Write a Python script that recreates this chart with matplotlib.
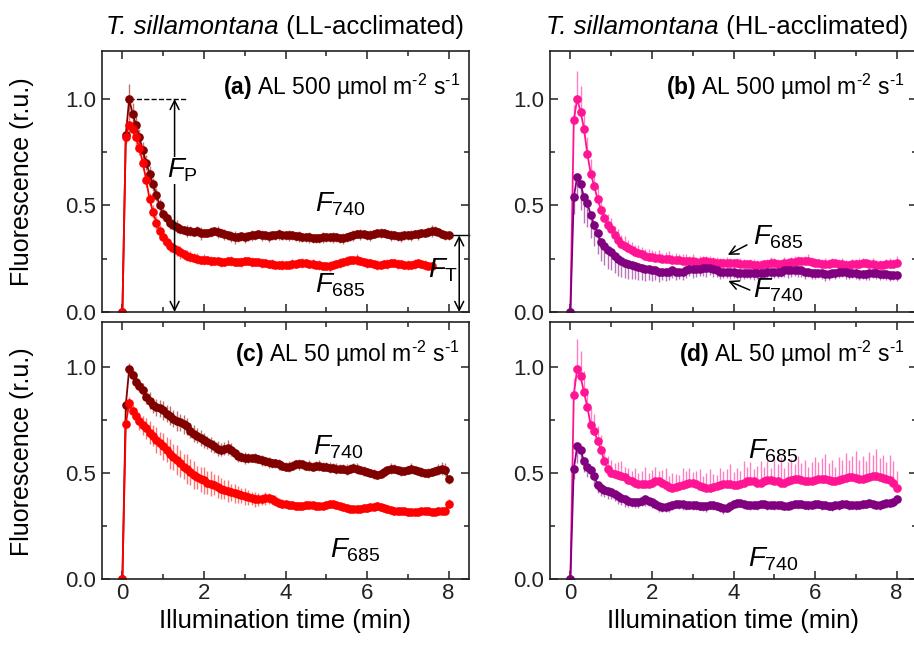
import numpy as np
import matplotlib
matplotlib.use("Agg")
import matplotlib.pyplot as plt
from matplotlib.colors import to_rgba

plt.rcParams['font.family'] = 'Liberation Sans'
plt.rcParams['mathtext.fontset'] = 'custom'
plt.rcParams['mathtext.rm'] = 'Liberation Sans'
plt.rcParams['mathtext.it'] = 'Liberation Sans:italic'
plt.rcParams['mathtext.bf'] = 'Liberation Sans:bold'

# one point every 5 s, in minutes
time_min = np.arange(97) * 5 / 60

# (a) LL-acclimated, AL 500
a740 = [0, 0.83, 1.00, 0.93, 0.88, 0.82, 0.76, 0.70, 0.65, 0.60, 0.55, 0.50, 0.46,
        0.44, 0.42, 0.41, 0.40, 0.39, 0.385, 0.38, 0.38, 0.375, 0.38, 0.37, 0.37,
        0.37, 0.375, 0.38, 0.375, 0.37, 0.365, 0.36, 0.355, 0.35, 0.35, 0.355, 0.35,
        0.355, 0.36, 0.36, 0.365, 0.36, 0.36, 0.355, 0.36, 0.36, 0.365, 0.36, 0.36,
        0.36, 0.36, 0.355, 0.355, 0.35, 0.35, 0.35, 0.345, 0.345, 0.345, 0.35, 0.35,
        0.35, 0.35, 0.35, 0.345, 0.345, 0.35, 0.355, 0.36, 0.365, 0.365, 0.365, 0.36,
        0.36, 0.365, 0.37, 0.37, 0.37, 0.365, 0.36, 0.36, 0.355, 0.355, 0.36, 0.36,
        0.36, 0.365, 0.365, 0.37, 0.37, 0.375, 0.38, 0.38, 0.375, 0.365, 0.36, 0.36]
a740_err = [0, 0.03, 0.07, 0.05, 0.045, 0.04, 0.04, 0.035, 0.035, 0.03, 0.03, 0.03, 0.03,
            0.025, 0.03, 0.025, 0.03, 0.025, 0.02, 0.03, 0.025, 0.02, 0.025, 0.03, 0.02,
            0.02, 0.025, 0.02, 0.03, 0.02, 0.025, 0.02, 0.025, 0.03, 0.02, 0.02, 0.025,
            0.02, 0.025, 0.02, 0.02, 0.025, 0.02, 0.025, 0.02, 0.02, 0.025, 0.02, 0.02,
            0.025, 0.02, 0.02, 0.025, 0.02, 0.02, 0.025, 0.02, 0.02, 0.02, 0.025, 0.02,
            0.02, 0.025, 0.02, 0.02, 0.025, 0.02, 0.02, 0.025, 0.02, 0.025, 0.02, 0.02,
            0.025, 0.02, 0.02, 0.025, 0.02, 0.02, 0.025, 0.02, 0.02, 0.025, 0.02, 0.02,
            0.025, 0.02, 0.025, 0.02, 0.02, 0.025, 0.03, 0.025, 0.02, 0.02, 0.02, 0.02]
a685 = [0, 0.82, 0.88, 0.86, 0.82, 0.77, 0.70, 0.62, 0.53, 0.47, 0.42, 0.38, 0.35,
        0.33, 0.31, 0.30, 0.29, 0.28, 0.27, 0.265, 0.26, 0.255, 0.25, 0.245, 0.245,
        0.245, 0.24, 0.24, 0.24, 0.235, 0.235, 0.24, 0.24, 0.235, 0.235, 0.235, 0.24,
        0.24, 0.235, 0.235, 0.235, 0.23, 0.23, 0.225, 0.225, 0.22, 0.22, 0.22, 0.22,
        0.22, 0.225, 0.225, 0.23, 0.23, 0.23, 0.225, 0.225, 0.22, 0.22, 0.215, 0.215,
        0.215, 0.22, 0.225, 0.23, 0.235, 0.24, 0.245, 0.245, 0.245, 0.24, 0.235, 0.23,
        0.23, 0.225, 0.22, 0.22, 0.225, 0.225, 0.23, 0.23, 0.225, 0.225, 0.22, 0.22,
        0.22, 0.225, 0.23, 0.225, 0.22, 0.215, 0.215]
a685_err = [0, 0.03, 0.05, 0.04, 0.04, 0.035, 0.035, 0.035, 0.03, 0.03, 0.03, 0.03, 0.03,
            0.025, 0.03, 0.025, 0.025, 0.03, 0.02, 0.025, 0.025, 0.02, 0.025, 0.02, 0.025,
            0.02, 0.025, 0.02, 0.02, 0.025, 0.02, 0.02, 0.025, 0.02, 0.02, 0.025, 0.02,
            0.02, 0.025, 0.02, 0.02, 0.025, 0.02, 0.02, 0.025, 0.02, 0.02, 0.025, 0.02,
            0.02, 0.025, 0.02, 0.02, 0.025, 0.02, 0.02, 0.025, 0.02, 0.025, 0.02, 0.02,
            0.025, 0.02, 0.02, 0.025, 0.02, 0.025, 0.02, 0.02, 0.025, 0.02, 0.02, 0.025,
            0.02, 0.02, 0.025, 0.02, 0.02, 0.025, 0.02, 0.02, 0.025, 0.02, 0.02, 0.025,
            0.02, 0.025, 0.02, 0.02, 0.025, 0.02, 0.02]

# (b) HL-acclimated, AL 500
b685 = [0, 0.90, 1.00, 0.94, 0.86, 0.74, 0.65, 0.59, 0.53, 0.48, 0.44, 0.41, 0.39,
        0.36, 0.34, 0.32, 0.31, 0.30, 0.29, 0.28, 0.275, 0.27, 0.265, 0.26, 0.26,
        0.255, 0.255, 0.25, 0.25, 0.25, 0.245, 0.245, 0.245, 0.24, 0.24, 0.24, 0.24,
        0.235, 0.235, 0.24, 0.24, 0.235, 0.235, 0.23, 0.23, 0.23, 0.23, 0.23, 0.23,
        0.23, 0.225, 0.225, 0.225, 0.225, 0.22, 0.22, 0.22, 0.225, 0.225, 0.23, 0.23,
        0.225, 0.225, 0.23, 0.23, 0.235, 0.235, 0.24, 0.24, 0.24, 0.24, 0.235, 0.23,
        0.23, 0.225, 0.225, 0.225, 0.23, 0.23, 0.225, 0.225, 0.22, 0.22, 0.225, 0.225,
        0.225, 0.23, 0.23, 0.225, 0.225, 0.22, 0.22, 0.22, 0.225, 0.225, 0.225, 0.23]
b685_err = [0, 0.07, 0.13, 0.12, 0.09, 0.08, 0.07, 0.065, 0.06, 0.06, 0.055, 0.05, 0.05,
            0.045, 0.05, 0.04, 0.045, 0.04, 0.04, 0.035, 0.04, 0.035, 0.03, 0.035, 0.03,
            0.03, 0.035, 0.025, 0.03, 0.035, 0.025, 0.03, 0.025, 0.03, 0.03, 0.025, 0.03,
            0.025, 0.03, 0.025, 0.025, 0.03, 0.025, 0.03, 0.025, 0.025, 0.03, 0.025, 0.02,
            0.025, 0.03, 0.025, 0.02, 0.025, 0.03, 0.025, 0.025, 0.02, 0.025, 0.03, 0.025,
            0.025, 0.02, 0.03, 0.025, 0.025, 0.03, 0.025, 0.02, 0.025, 0.03, 0.025, 0.025,
            0.02, 0.025, 0.03, 0.025, 0.025, 0.02, 0.025, 0.03, 0.025, 0.02, 0.025, 0.025,
            0.03, 0.025, 0.02, 0.025, 0.03, 0.025, 0.025, 0.02, 0.025, 0.03, 0.025, 0.035]
b740 = [0, 0.54, 0.635, 0.60, 0.54, 0.51, 0.455, 0.41, 0.37, 0.33, 0.31, 0.29, 0.28,
        0.265, 0.25, 0.24, 0.23, 0.225, 0.22, 0.215, 0.21, 0.205, 0.20, 0.20, 0.195,
        0.195, 0.19, 0.19, 0.19, 0.19, 0.195, 0.19, 0.19, 0.19, 0.195, 0.20, 0.20,
        0.20, 0.20, 0.205, 0.205, 0.205, 0.20, 0.195, 0.19, 0.19, 0.19, 0.19, 0.19,
        0.185, 0.185, 0.185, 0.185, 0.185, 0.185, 0.185, 0.185, 0.185, 0.19, 0.19, 0.19,
        0.19, 0.19, 0.195, 0.195, 0.195, 0.195, 0.195, 0.195, 0.19, 0.19, 0.185, 0.185,
        0.185, 0.185, 0.18, 0.18, 0.185, 0.185, 0.19, 0.19, 0.19, 0.185, 0.185, 0.185,
        0.18, 0.18, 0.18, 0.185, 0.185, 0.185, 0.18, 0.18, 0.18, 0.175, 0.175, 0.175]
b740_err = [0, 0.08, 0.10, 0.12, 0.12, 0.11, 0.11, 0.10, 0.10, 0.09, 0.09, 0.09, 0.085,
            0.08, 0.08, 0.075, 0.07, 0.07, 0.065, 0.06, 0.06, 0.055, 0.055, 0.05, 0.05,
            0.045, 0.05, 0.04, 0.045, 0.04, 0.035, 0.04, 0.035, 0.04, 0.035, 0.03, 0.04,
            0.035, 0.03, 0.035, 0.04, 0.03, 0.035, 0.03, 0.035, 0.03, 0.03, 0.035, 0.03,
            0.03, 0.035, 0.03, 0.025, 0.03, 0.035, 0.03, 0.03, 0.025, 0.03, 0.035, 0.03,
            0.03, 0.025, 0.03, 0.035, 0.03, 0.025, 0.03, 0.03, 0.035, 0.025, 0.03, 0.03,
            0.025, 0.03, 0.035, 0.03, 0.025, 0.03, 0.03, 0.025, 0.035, 0.03, 0.025, 0.03,
            0.03, 0.025, 0.03, 0.035, 0.025, 0.03, 0.03, 0.025, 0.03, 0.03, 0.025, 0.03]

# (c) LL-acclimated, AL 50
c740 = [0, 0.82, 0.99, 0.96, 0.93, 0.91, 0.89, 0.86, 0.84, 0.82, 0.81, 0.805, 0.795,
        0.78, 0.77, 0.755, 0.745, 0.74, 0.73, 0.72, 0.70, 0.685, 0.675, 0.665, 0.655,
        0.645, 0.635, 0.625, 0.615, 0.61, 0.615, 0.62, 0.61, 0.595, 0.58, 0.575, 0.57,
        0.57, 0.57, 0.57, 0.565, 0.56, 0.555, 0.55, 0.545, 0.545, 0.54, 0.535, 0.53,
        0.53, 0.535, 0.54, 0.54, 0.54, 0.535, 0.535, 0.53, 0.535, 0.535, 0.53, 0.53,
        0.525, 0.525, 0.52, 0.52, 0.52, 0.515, 0.52, 0.525, 0.52, 0.515, 0.51, 0.505,
        0.50, 0.495, 0.49, 0.495, 0.505, 0.515, 0.52, 0.52, 0.515, 0.51, 0.51, 0.515,
        0.52, 0.515, 0.51, 0.505, 0.50, 0.50, 0.505, 0.51, 0.515, 0.52, 0.515, 0.47]
c740_err = [0, 0.03, 0.03, 0.03, 0.03, 0.03, 0.035, 0.035, 0.04, 0.035, 0.04, 0.04, 0.045,
            0.04, 0.045, 0.04, 0.045, 0.04, 0.045, 0.04, 0.035, 0.04, 0.035, 0.04, 0.035,
            0.03, 0.035, 0.03, 0.035, 0.03, 0.03, 0.035, 0.03, 0.025, 0.03, 0.025, 0.03,
            0.025, 0.02, 0.025, 0.02, 0.025, 0.02, 0.025, 0.02, 0.02, 0.025, 0.02, 0.02,
            0.025, 0.02, 0.02, 0.025, 0.02, 0.02, 0.025, 0.02, 0.02, 0.025, 0.02, 0.02,
            0.025, 0.02, 0.025, 0.02, 0.02, 0.025, 0.02, 0.02, 0.025, 0.02, 0.025, 0.02,
            0.02, 0.025, 0.02, 0.02, 0.025, 0.02, 0.025, 0.02, 0.02, 0.025, 0.02, 0.02,
            0.025, 0.02, 0.02, 0.025, 0.02, 0.025, 0.02, 0.02, 0.025, 0.03, 0.03, 0.02]
c685 = [0, 0.73, 0.83, 0.79, 0.77, 0.745, 0.725, 0.71, 0.69, 0.675, 0.655, 0.64, 0.625,
        0.61, 0.59, 0.575, 0.56, 0.545, 0.53, 0.52, 0.505, 0.49, 0.48, 0.47, 0.465,
        0.455, 0.45, 0.445, 0.435, 0.425, 0.42, 0.415, 0.41, 0.405, 0.40, 0.395, 0.39,
        0.385, 0.38, 0.375, 0.375, 0.375, 0.38, 0.38, 0.375, 0.37, 0.36, 0.355, 0.355,
        0.35, 0.35, 0.345, 0.345, 0.345, 0.35, 0.35, 0.35, 0.345, 0.345, 0.345, 0.35,
        0.355, 0.355, 0.35, 0.345, 0.34, 0.335, 0.33, 0.33, 0.33, 0.33, 0.335, 0.335,
        0.34, 0.34, 0.345, 0.34, 0.335, 0.33, 0.325, 0.32, 0.32, 0.32, 0.32, 0.315,
        0.315, 0.315, 0.315, 0.32, 0.32, 0.32, 0.315, 0.315, 0.32, 0.32, 0.32, 0.355]
c685_err = [0, 0.02, 0.03, 0.03, 0.035, 0.04, 0.045, 0.05, 0.055, 0.05, 0.06, 0.055, 0.065,
            0.06, 0.07, 0.06, 0.07, 0.065, 0.06, 0.07, 0.06, 0.065, 0.055, 0.06, 0.065,
            0.055, 0.06, 0.05, 0.055, 0.05, 0.045, 0.05, 0.04, 0.045, 0.04, 0.035, 0.04,
            0.035, 0.03, 0.035, 0.03, 0.025, 0.03, 0.025, 0.02, 0.025, 0.02, 0.02, 0.015,
            0.02, 0.015, 0.02, 0.015, 0.015, 0.02, 0.015, 0.015, 0.02, 0.015, 0.015, 0.02,
            0.015, 0.015, 0.02, 0.015, 0.015, 0.02, 0.015, 0.015, 0.02, 0.015, 0.015, 0.02,
            0.015, 0.015, 0.02, 0.015, 0.015, 0.02, 0.015, 0.015, 0.02, 0.015, 0.015, 0.02,
            0.015, 0.015, 0.02, 0.015, 0.015, 0.02, 0.015, 0.015, 0.02, 0.015, 0.015, 0.02]

# (d) HL-acclimated, AL 50
d685 = [0, 0.87, 0.99, 0.955, 0.88, 0.81, 0.725, 0.70, 0.65, 0.61, 0.555, 0.52, 0.50,
        0.495, 0.49, 0.485, 0.48, 0.465, 0.46, 0.455, 0.45, 0.45, 0.45, 0.45, 0.455,
        0.46, 0.46, 0.455, 0.445, 0.435, 0.43, 0.435, 0.44, 0.445, 0.45, 0.455, 0.455,
        0.45, 0.44, 0.435, 0.43, 0.43, 0.435, 0.44, 0.445, 0.45, 0.45, 0.45, 0.445,
        0.445, 0.45, 0.455, 0.46, 0.46, 0.46, 0.455, 0.455, 0.46, 0.465, 0.465, 0.46,
        0.46, 0.455, 0.455, 0.46, 0.465, 0.47, 0.47, 0.465, 0.46, 0.46, 0.46, 0.465,
        0.47, 0.47, 0.47, 0.465, 0.46, 0.46, 0.465, 0.47, 0.475, 0.48, 0.48, 0.475,
        0.47, 0.47, 0.475, 0.48, 0.485, 0.485, 0.48, 0.475, 0.47, 0.465, 0.455, 0.43]
d685_err = [0, 0.08, 0.14, 0.12, 0.10, 0.09, 0.08, 0.08, 0.07, 0.07, 0.06, 0.06, 0.06,
            0.05, 0.06, 0.07, 0.05, 0.06, 0.05, 0.07, 0.05, 0.06, 0.08, 0.05, 0.06,
            0.07, 0.05, 0.06, 0.08, 0.05, 0.07, 0.06, 0.05, 0.08, 0.06, 0.07, 0.05,
            0.06, 0.08, 0.05, 0.07, 0.09, 0.06, 0.05, 0.08, 0.06, 0.07, 0.09, 0.06,
            0.08, 0.06, 0.1, 0.07, 0.09, 0.06, 0.08, 0.1, 0.07, 0.09, 0.06, 0.1,
            0.08, 0.12, 0.07, 0.09, 0.1, 0.07, 0.11, 0.08, 0.1, 0.07, 0.09, 0.11,
            0.08, 0.1, 0.12, 0.08, 0.1, 0.07, 0.11, 0.09, 0.12, 0.08, 0.1, 0.13,
            0.09, 0.11, 0.08, 0.12, 0.1, 0.13, 0.09, 0.11, 0.08, 0.12, 0.1, 0.08]
d740 = [0, 0.52, 0.625, 0.61, 0.555, 0.53, 0.515, 0.485, 0.445, 0.43, 0.42, 0.415, 0.41,
        0.40, 0.39, 0.38, 0.375, 0.37, 0.365, 0.365, 0.365, 0.37, 0.375, 0.37, 0.365,
        0.355, 0.345, 0.34, 0.34, 0.345, 0.35, 0.355, 0.355, 0.355, 0.35, 0.35, 0.35,
        0.35, 0.345, 0.345, 0.345, 0.35, 0.35, 0.345, 0.34, 0.335, 0.335, 0.345, 0.355,
        0.36, 0.36, 0.355, 0.35, 0.35, 0.35, 0.35, 0.355, 0.355, 0.35, 0.35, 0.35,
        0.35, 0.35, 0.345, 0.345, 0.35, 0.355, 0.355, 0.355, 0.35, 0.35, 0.35, 0.355,
        0.355, 0.35, 0.35, 0.345, 0.345, 0.35, 0.35, 0.355, 0.355, 0.35, 0.35, 0.35,
        0.35, 0.355, 0.355, 0.36, 0.355, 0.35, 0.35, 0.355, 0.36, 0.36, 0.365, 0.375]
d740_err = [0, 0.05, 0.08, 0.06, 0.05, 0.05, 0.04, 0.045, 0.04, 0.04, 0.035, 0.04, 0.035,
            0.03, 0.035, 0.03, 0.035, 0.03, 0.025, 0.03, 0.03, 0.025, 0.03, 0.025, 0.03,
            0.025, 0.03, 0.025, 0.025, 0.03, 0.025, 0.02, 0.025, 0.03, 0.025, 0.02, 0.025,
            0.025, 0.02, 0.025, 0.03, 0.02, 0.025, 0.02, 0.025, 0.03, 0.02, 0.025, 0.02,
            0.025, 0.02, 0.025, 0.02, 0.025, 0.02, 0.025, 0.02, 0.02, 0.025, 0.02, 0.025,
            0.02, 0.025, 0.02, 0.02, 0.025, 0.02, 0.025, 0.02, 0.02, 0.025, 0.02, 0.025,
            0.02, 0.025, 0.02, 0.02, 0.025, 0.02, 0.025, 0.02, 0.02, 0.025, 0.02, 0.025,
            0.02, 0.025, 0.02, 0.02, 0.025, 0.02, 0.025, 0.02, 0.025, 0.02, 0.025, 0.02]

dark_red = '#800000'
red = '#ff0000'
pink = '#ff1493'
purple = '#800080'

W, H = 914, 651
fig = plt.figure(figsize=(W / 100, H / 100), dpi=100)


def px_axes(x0, y0, x1, y1):
    return fig.add_axes([x0 / W, 1 - y1 / H, (x1 - x0) / W, (y1 - y0) / H])


ax_a = px_axes(102, 51, 469, 312)
ax_b = px_axes(550, 51, 917, 312)
ax_c = px_axes(102, 322, 469, 579)
ax_d = px_axes(550, 322, 917, 579)


def draw(ax, y, err, color, side='both'):
    n = len(y)
    t = time_min[:n]
    err = np.array(err)
    zero = np.zeros(n)
    if side == 'up':
        yerr = [zero, err]
    elif side == 'down':
        yerr = [err, zero]
    else:
        yerr = err
    ax.errorbar(t, y, yerr=yerr, fmt='-o', color=color, ms=5.2, lw=1.3,
                elinewidth=1.0, capsize=0, ecolor=to_rgba(color, 0.55))


draw(ax_a, a740, a740_err, dark_red)
draw(ax_a, a685, a685_err, red)
draw(ax_b, b685, b685_err, pink, 'up')
draw(ax_b, b740, b740_err, purple, 'down')
draw(ax_c, c740, c740_err, dark_red)
draw(ax_c, c685, c685_err, red)
draw(ax_d, d685, d685_err, pink, 'up')
draw(ax_d, d740, d740_err, purple, 'down')

for ax in (ax_a, ax_b, ax_c, ax_d):
    ax.set_xlim(-0.5, 8.5)
    ax.set_xticks([0, 2, 4, 6, 8])
    ax.set_xticks([1, 3, 5, 7], minor=True)
    ax.set_yticks([0.0, 0.5, 1.0])
    ax.set_yticks([0.25, 0.75], minor=True)
    ax.set_yticklabels(['0.0', '0.5', '1.0'])
    ax.tick_params(which='both', direction='in', top=True, right=True,
                   width=1.1, colors='#222222', labelsize=16)
    ax.tick_params(which='major', length=6)
    ax.tick_params(which='minor', length=3.5)
    ax.tick_params(axis='y', pad=4)
    ax.tick_params(axis='x', pad=3)
    for s in ax.spines.values():
        s.set_linewidth(1.2)
        s.set_color('#222222')

for ax in (ax_a, ax_b):
    ax.set_ylim(0, 1.225)
    ax.tick_params(labelbottom=False)
for ax in (ax_c, ax_d):
    ax.set_ylim(0, 1.212)

# panel captions
HY = '\u2010'
unit = r'µmol m$^{%s2}$ s$^{%s1}$' % (HY, HY)
cap = dict(fontsize=16.5, ha='right', va='baseline')
ax_a.text(0.975, 1.02, r'$\mathbf{(a)}$ AL 500 ' + unit,
          transform=ax_a.get_yaxis_transform(), **cap)
ax_b.text(0.967, 1.02, r'$\mathbf{(b)}$ AL 500 ' + unit,
          transform=ax_b.get_yaxis_transform(), **cap)
ax_c.text(0.975, 1.025, r'$\mathbf{(c)}$ AL 50 ' + unit,
          transform=ax_c.get_yaxis_transform(), **cap)
ax_d.text(0.967, 1.025, r'$\mathbf{(d)}$ AL 50 ' + unit,
          transform=ax_d.get_yaxis_transform(), **cap)

# trace labels
lab = dict(fontsize=20, ha='left', va='baseline')
ax_a.text(4.72, 0.47, r'$F_{740}$', **lab)
ax_a.text(4.72, 0.09, r'$F_{685}$', **lab)
ax_c.text(4.67, 0.585, r'$F_{740}$', **lab)
ax_c.text(5.1, 0.10, r'$F_{685}$', **lab)
ax_b.text(4.47, 0.315, r'$F_{685}$', **lab)
ax_b.text(4.47, 0.07, r'$F_{740}$', **lab)
ax_d.text(4.35, 0.57, r'$F_{685}$', **lab)
ax_d.text(4.35, 0.06, r'$F_{740}$', **lab)

arr = dict(arrowstyle='->', color='black', lw=1.1, shrinkA=0, shrinkB=0,
           mutation_scale=16)
ax_b.annotate('', xy=(3.86, 0.268), xytext=(4.33, 0.315), arrowprops=arr)
ax_b.annotate('', xy=(3.87, 0.146), xytext=(4.4, 0.103), arrowprops=arr)

# F_P and F_T markers in panel (a)
dbl = dict(arr, arrowstyle='<->')
ax_a.plot([0.17, 1.56], [1.0, 1.0], 'k--', lw=1.0)
ax_a.annotate('', xy=(1.28, 0.0), xytext=(1.28, 1.0), arrowprops=dbl)
ax_a.text(1.1, 0.63, r'$F_\mathrm{P}$', fontsize=20, va='baseline',
          bbox=dict(facecolor='white', edgecolor='none', pad=0))
ax_a.plot([7.97, 8.5], [0.36, 0.36], 'k-', lw=1.0, clip_on=False)
ax_a.annotate('', xy=(8.26, 0.0), xytext=(8.26, 0.36), arrowprops=dbl)
ax_a.text(7.5, 0.16, r'$F_\mathrm{T}$', fontsize=20, va='baseline')

# column titles and axis labels
for split, group in ((279, '(LL-acclimated)'), (719, '(HL-acclimated)')):
    fig.text(split / W, 1 - 27 / H, 'T. sillamontana', fontsize=18.5,
             fontstyle='italic', ha='right', va='center')
    fig.text(split / W, 1 - 27 / H, ' ' + group, fontsize=18.5,
             ha='left', va='center')
for yc in (182, 452):
    fig.text(22 / W, 1 - yc / H, 'Fluorescence (r.u.)', fontsize=18,
             rotation=90, ha='center', va='center')
for xc in (285, 733):
    fig.text(xc / W, 1 - 621 / H, 'Illumination time (min)', fontsize=18.5,
             ha='center', va='center')

fig.savefig('out.png', dpi=100)
